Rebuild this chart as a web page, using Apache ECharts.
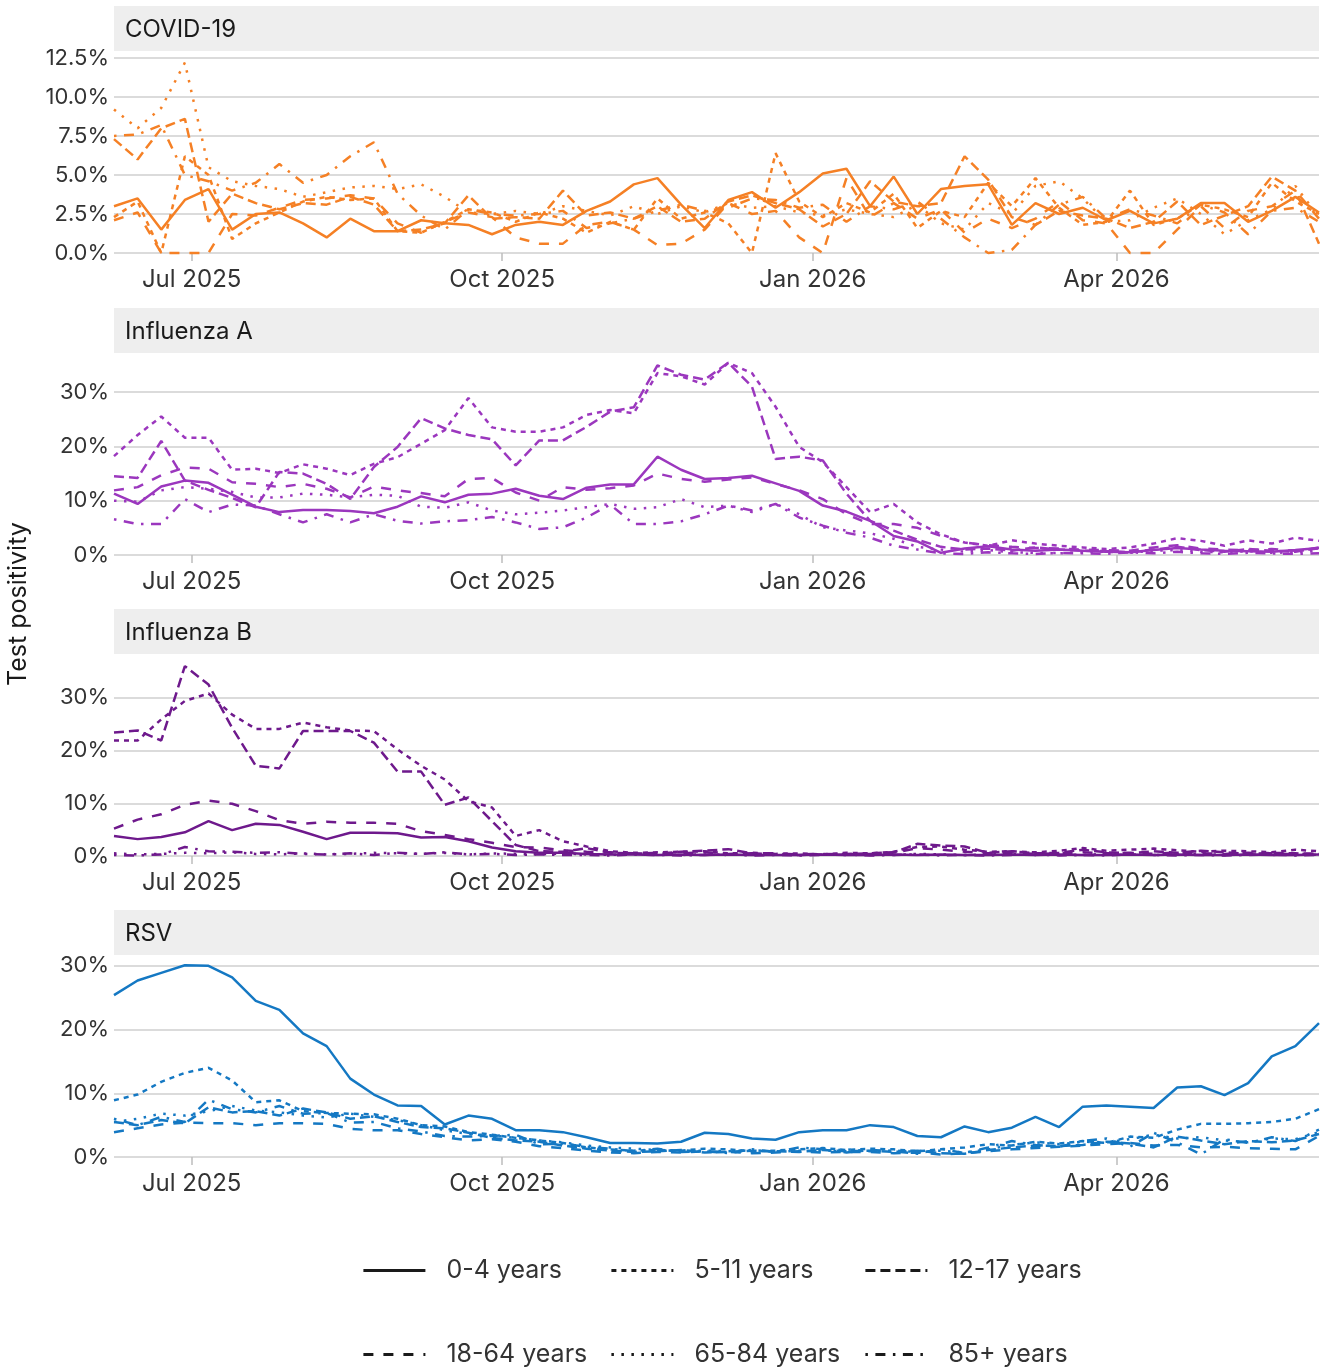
<!DOCTYPE html>
<html>
<head>
<meta charset="utf-8">
<script src="https://cdn.jsdelivr.net/npm/echarts@6/dist/echarts.min.js"></script>
<style>
  html, body { margin: 0; padding: 0; background: #fff; }
  #chart { width: 1325px; height: 1369px; }
</style>
</head>
<body>
<div id="chart"></div>
<script>
// weekly reporting dates
const weeks = [
  '2025-06-08','2025-06-15','2025-06-22','2025-06-29','2025-07-06','2025-07-13','2025-07-20','2025-07-27',
  '2025-08-03','2025-08-10','2025-08-17','2025-08-24','2025-08-31','2025-09-07','2025-09-14','2025-09-21',
  '2025-09-28','2025-10-05','2025-10-12','2025-10-19','2025-10-26','2025-11-02','2025-11-09','2025-11-16',
  '2025-11-23','2025-11-30','2025-12-07','2025-12-14','2025-12-21','2025-12-28','2026-01-04','2026-01-11',
  '2026-01-18','2026-01-25','2026-02-01','2026-02-08','2026-02-15','2026-02-22','2026-03-01','2026-03-08',
  '2026-03-15','2026-03-22','2026-03-29','2026-04-05','2026-04-12','2026-04-19','2026-04-26','2026-05-03',
  '2026-05-10','2026-05-17','2026-05-24','2026-05-31'
];
const tickDates = ['2025-07-01', '2025-10-01', '2026-01-01', '2026-04-01'];
const tickLabels = ['Jul 2025', 'Oct 2025', 'Jan 2026', 'Apr 2026'];
const ageGroups = ['0-4 years', '5-11 years', '12-17 years', '18-64 years', '65-84 years', '85+ years'];
const panelTitles = ['COVID-19', 'Influenza A', 'Influenza B', 'RSV'];

// COVID-19 (%)
const covid_0_4 = [3.0,3.5,1.5,3.4,4.1,1.5,2.5,2.6,1.9,1.0,2.2,1.4,1.4,2.1,1.9,1.8,1.2,1.8,2.0,1.8,2.7,3.3,4.4,4.8,3.1,1.6,3.4,3.9,2.9,3.9,5.1,5.4,3.0,4.9,2.5,4.1,4.3,4.4,1.8,3.2,2.5,2.9,2.1,2.7,1.9,2.2,3.2,3.2,2.0,2.7,3.6,2.6];
const covid_5_11 = [2.3,3.3,0.0,6.2,5.0,0.9,1.9,2.6,3.3,3.6,3.4,3.5,1.4,1.3,2.0,2.8,2.6,2.0,2.6,2.2,1.3,2.0,1.5,3.5,2.2,2.6,1.9,0.0,6.4,3.3,2.3,3.2,2.6,3.8,1.6,2.7,2.3,4.5,3.0,4.8,2.9,1.8,2.0,4.0,1.8,2.2,3.1,2.8,2.3,4.5,3.3,2.5];
const covid_12_17 = [7.3,6.0,8.0,8.6,2.0,3.8,3.2,2.8,3.2,3.1,3.6,3.1,1.4,1.5,1.9,3.7,2.2,2.3,2.2,4.0,2.4,2.6,2.2,3.0,2.0,2.2,3.3,3.7,3.2,2.8,1.7,2.5,4.6,3.3,3.0,3.2,6.2,4.7,2.3,1.8,2.7,2.4,2.2,1.6,2.0,3.3,1.8,2.4,3.0,4.9,4.0,0.6];
const covid_18_64 = [2.1,2.6,0.0,0.0,0.0,2.5,2.4,2.9,3.4,3.5,3.7,3.5,1.9,1.3,2.0,2.6,2.3,1.0,0.6,0.6,1.8,2.0,1.5,0.5,0.6,1.5,3.2,2.5,2.7,1.0,0.0,4.8,2.3,3.2,2.2,2.8,1.3,2.2,1.6,2.2,3.3,2.1,1.9,0.0,0.0,1.5,3.0,1.6,2.7,3.0,4.0,2.2];
const covid_65_84 = [9.2,8.0,9.3,12.2,5.5,4.6,4.3,4.1,3.6,3.9,4.2,4.3,4.1,4.4,3.6,2.6,2.5,2.7,2.5,3.0,2.7,2.4,3.0,2.5,3.0,2.6,3.2,2.9,3.0,2.6,2.4,2.8,2.5,2.3,3.1,1.9,1.5,3.2,2.5,4.3,4.6,3.5,2.0,2.1,2.9,3.5,2.5,1.2,2.1,2.8,4.3,2.3];
const covid_85 = [7.5,7.6,8.2,5.0,4.6,4.0,4.5,5.7,4.5,5.0,6.2,7.1,3.8,2.4,1.5,2.8,2.5,2.4,2.5,2.7,1.6,1.9,2.2,2.7,3.1,2.7,2.9,3.5,3.4,2.9,3.1,2.0,3.0,2.8,3.3,2.2,1.0,0.0,0.2,1.8,3.1,3.6,2.2,2.8,2.4,1.9,3.1,2.6,1.2,2.7,2.9,2.0];

// Influenza A (%)
const fluA_0_4 = [11.3,9.4,12.6,13.7,13.3,11.1,8.9,7.9,8.3,8.3,8.1,7.7,8.9,10.8,9.7,11.1,11.3,12.2,10.9,10.3,12.4,13.0,13.0,18.1,15.7,14.0,14.2,14.6,13.2,11.8,9.1,8.0,6.3,3.5,2.5,0.4,1.2,1.6,1.0,0.8,1.0,0.8,0.6,0.5,0.9,1.3,1.0,0.8,0.7,0.6,0.9,1.3];
const fluA_5_11 = [18.2,22.1,25.5,21.6,21.6,15.7,15.9,15.1,16.7,15.9,14.7,16.8,18.0,20.5,23.0,28.9,23.5,22.7,22.7,23.5,25.8,26.7,26.1,33.5,32.9,31.4,35.4,33.5,27.3,19.9,17.1,12.5,7.9,9.4,6.0,3.8,2.3,1.7,2.7,2.1,1.7,1.4,1.1,1.4,2.1,3.1,2.6,1.7,2.7,2.1,3.2,2.6];
const fluA_12_17 = [14.5,14.2,21.0,13.7,12.0,10.5,8.8,15.3,15.0,13.1,10.3,16.2,19.9,25.2,23.3,22.1,21.3,16.5,21.1,21.1,23.6,26.4,27.2,34.9,33.2,32.3,35.4,31.0,17.7,18.1,17.4,11.3,6.3,4.5,2.8,1.5,1.0,1.2,0.8,1.4,1.0,0.8,0.7,0.5,1.0,1.5,0.9,0.6,1.1,0.8,0.6,1.4];
const fluA_18_64 = [11.9,12.5,14.7,16.1,15.9,13.4,13.1,12.5,13.1,12.2,10.6,12.6,11.9,11.4,10.8,14.0,14.2,11.5,10.0,12.5,12.0,12.3,12.8,15.0,14.0,13.5,13.9,14.3,13.1,11.9,10.3,7.5,5.7,5.7,5.0,3.5,2.3,1.8,1.5,1.3,1.2,1.0,0.9,0.8,1.4,1.8,1.2,1.0,0.9,1.1,0.8,1.2];
const fluA_65_84 = [10.0,9.8,11.9,12.5,12.2,11.6,10.6,10.6,11.3,11.1,10.6,11.1,10.9,8.9,8.7,9.7,8.2,7.5,7.8,8.2,8.8,9.4,8.5,8.8,10.3,8.8,9.1,7.9,9.4,7.5,5.1,4.5,4.0,3.0,1.5,1.0,0.6,0.9,0.5,0.4,0.3,0.5,0.6,0.4,0.8,0.9,0.6,0.5,0.7,0.4,0.5,0.8];
const fluA_85 = [6.6,5.7,5.7,10.3,7.9,9.3,9.1,7.5,6.0,7.5,6.0,7.5,6.3,5.8,6.2,6.4,7.0,6.0,4.8,5.1,6.9,9.3,5.7,5.7,6.2,7.5,9.1,8.2,9.4,6.9,5.4,4.1,3.2,1.7,1.0,0.3,0.2,0.5,0.3,0.2,0.4,0.3,0.2,0.5,0.3,0.6,0.3,0.2,0.4,0.3,0.2,0.3];

// Influenza B (%)
const fluB_0_4 = [3.8,3.2,3.6,4.5,6.6,4.9,6.1,5.9,4.6,3.2,4.4,4.4,4.3,3.5,3.6,2.8,1.6,0.9,0.6,0.6,0.4,0.3,0.3,0.2,0.3,0.2,0.3,0.2,0.2,0.2,0.3,0.2,0.2,0.3,0.2,0.3,0.2,0.2,0.3,0.2,0.3,0.2,0.2,0.3,0.2,0.3,0.2,0.2,0.3,0.2,0.2,0.3];
const fluB_5_11 = [21.9,21.9,25.9,29.4,30.8,26.8,24.1,24.1,25.3,24.4,23.8,23.7,20.2,17.1,14.5,10.4,9.2,3.8,4.9,2.8,1.8,0.9,0.6,0.7,0.8,0.9,0.5,0.6,0.4,0.5,0.3,0.6,0.5,0.8,1.7,1.8,1.2,0.8,0.9,0.7,1.0,1.5,1.0,1.2,1.4,1.1,0.8,1.0,0.9,0.7,1.2,0.9];
const fluB_12_17 = [23.4,23.8,21.9,36.0,32.5,24.3,17.1,16.6,23.7,23.7,23.7,21.5,16.0,16.0,9.7,11.1,6.6,2.1,0.9,0.8,1.5,0.6,0.5,0.4,0.8,1.0,1.3,0.5,0.3,0.2,0.3,0.4,0.5,0.7,2.3,2.0,1.8,0.6,0.9,0.5,0.6,1.2,0.7,0.5,0.9,0.6,1.0,0.7,0.4,0.6,0.5,0.4];
const fluB_18_64 = [5.2,6.9,7.9,9.7,10.5,9.9,8.5,6.8,6.1,6.5,6.3,6.3,6.1,4.7,4.0,3.2,2.5,1.7,1.6,1.1,0.8,0.7,0.5,0.6,0.5,0.7,0.4,0.5,0.5,0.3,0.4,0.3,0.4,0.6,1.5,1.2,0.8,0.5,0.6,0.4,0.5,0.7,0.5,0.6,0.4,0.7,0.5,0.4,0.6,0.5,0.3,0.5];
const fluB_65_84 = [0.5,0.3,0.4,0.6,0.5,0.7,0.4,0.3,0.5,0.3,0.4,0.6,0.5,0.4,0.6,0.3,0.5,0.4,0.3,0.5,0.3,0.2,0.4,0.3,0.2,0.3,0.2,0.4,0.3,0.2,0.3,0.2,0.3,0.2,0.4,0.3,0.2,0.3,0.4,0.2,0.3,0.2,0.4,0.3,0.2,0.3,0.4,0.2,0.3,0.2,0.3,0.2];
const fluB_85 = [0.2,0.1,0.3,1.7,0.9,0.8,0.6,0.7,0.4,0.3,0.5,0.2,0.6,0.4,0.7,0.3,0.4,0.2,0.3,0.2,0.2,0.1,0.3,0.2,0.1,0.2,0.3,0.1,0.2,0.1,0.2,0.3,0.1,0.2,0.3,0.1,0.2,0.1,0.2,0.3,0.1,0.2,0.1,0.3,0.2,0.1,0.2,0.1,0.2,0.3,0.1,0.2];

// RSV (%)
const rsv_0_4 = [25.4,27.7,28.9,30.1,30.0,28.2,24.5,23.1,19.4,17.4,12.3,9.8,8.1,8.0,5.1,6.5,6.0,4.2,4.2,3.9,3.1,2.2,2.2,2.1,2.4,3.8,3.6,2.9,2.7,3.9,4.2,4.2,5.0,4.7,3.3,3.1,4.8,3.9,4.6,6.3,4.7,7.9,8.1,7.9,7.7,10.9,11.1,9.7,11.6,15.8,17.4,21.0];
const rsv_5_11 = [8.9,9.8,11.8,13.2,14.0,12.0,8.6,8.9,7.2,6.9,6.8,6.7,6.0,5.0,4.8,3.9,3.5,3.0,2.6,2.2,1.5,1.2,1.0,1.1,1.0,1.3,1.2,0.9,1.0,1.2,1.4,1.1,1.3,1.2,0.9,1.2,1.5,2.0,1.8,2.4,2.1,2.5,2.2,3.2,3.0,4.3,5.2,5.2,5.3,5.5,6.0,7.5];
const rsv_12_17 = [5.5,5.0,5.8,5.3,7.8,7.0,7.2,6.5,7.6,7.0,6.0,6.4,5.5,4.7,4.5,3.8,3.0,2.6,2.4,1.8,1.3,1.0,0.8,0.9,1.1,0.7,0.8,1.0,0.9,0.8,1.1,0.9,1.0,0.8,1.0,0.6,0.5,1.1,1.5,1.8,1.7,1.9,2.4,2.1,1.5,3.2,2.6,2.0,2.5,2.3,2.6,3.6];
const rsv_18_64 = [3.9,4.5,5.1,5.4,5.3,5.3,5.0,5.3,5.3,5.2,4.4,4.2,4.2,3.6,3.1,2.6,2.8,2.4,1.7,1.4,1.0,0.7,0.6,0.8,0.7,0.9,0.8,0.6,0.7,0.9,0.7,0.8,0.8,0.6,0.7,0.4,0.6,0.9,1.2,1.4,1.6,1.8,2.0,2.2,1.8,1.9,1.5,1.6,1.4,1.3,1.2,3.3];
const rsv_65_84 = [5.5,6.0,6.8,6.5,7.2,8.0,7.3,7.0,6.5,6.2,6.8,6.3,5.8,5.0,4.2,3.6,3.4,3.0,2.6,2.3,1.8,1.5,1.3,1.1,0.9,1.0,0.9,1.1,0.8,1.0,0.9,1.2,0.9,1.0,0.8,1.0,0.7,1.2,1.9,2.3,2.0,2.4,2.3,2.8,3.5,2.9,3.1,2.6,2.3,2.9,2.8,3.9];
const rsv_85 = [6.0,5.0,6.3,5.5,9.0,7.5,7.0,8.0,6.8,6.9,5.4,5.5,4.5,4.0,3.3,3.2,3.3,3.5,2.0,2.1,1.6,1.3,0.9,1.3,0.8,0.9,0.6,1.2,0.8,1.5,1.2,0.7,1.1,0.9,0.5,1.3,0.6,1.5,2.5,1.9,1.6,2.5,2.9,1.6,3.8,2.3,0.4,2.8,2.2,3.1,2.5,4.3];

const panelData = [
  [covid_0_4, covid_5_11, covid_12_17, covid_18_64, covid_65_84, covid_85],
  [fluA_0_4, fluA_5_11, fluA_12_17, fluA_18_64, fluA_65_84, fluA_85],
  [fluB_0_4, fluB_5_11, fluB_12_17, fluB_18_64, fluB_65_84, fluB_85],
  [rsv_0_4, rsv_5_11, rsv_12_17, rsv_18_64, rsv_65_84, rsv_85]
];

// layout / style
const FONT = 'Inter';
const colors = ['#F58025', '#9B37BE', '#6E198C', '#1478C3'];
const dashes = ['solid', [5, 5], [10, 5], [10, 10], [2.5, 7.5], [2.5, 7.5, 10, 7.5]];
const stripTops = [6, 308, 609, 910];
const stripH = 45;
const plotH = 202;
const plotLeft = 114;
const plotW = 1205;
const yMax = [12.95, 37.2, 38.3, 31.7];
const yStep = [2.5, 10, 10, 10];

const ts = s => new Date(s + 'T00:00:00').getTime();
const tickTs = tickDates.map(ts);

const grids = [], xAxes = [], yAxes = [], series = [], graphics = [];

stripTops.forEach((top, p) => {
  grids.push({ left: plotLeft, width: plotW, top: top + stripH, height: plotH });

  // dates are plotted as timestamps on a value axis so the ticks can sit on the 1st of the month
  xAxes.push({
    type: 'value', gridIndex: p,
    min: ts(weeks[0]), max: ts(weeks[weeks.length - 1]),
    axisLine: { show: false },
    axisTick: { show: true, customValues: tickTs, length: 8, lineStyle: { color: '#bdbdbd', width: 1.5 } },
    axisLabel: {
      customValues: tickTs, margin: 15, fontFamily: FONT, fontSize: 24, color: '#333',
      formatter: v => {
        const k = tickTs.findIndex(t => Math.abs(t - v) < 86400000);
        return k >= 0 ? tickLabels[k] : '';
      }
    },
    splitLine: { show: false }
  });

  yAxes.push({
    type: 'value', gridIndex: p, min: 0, max: yMax[p], interval: yStep[p],
    axisLine: { show: false }, axisTick: { show: false },
    axisLabel: {
      showMaxLabel: false, margin: 5, fontFamily: FONT, fontSize: 22, color: '#333',
      formatter: v => p === 0 ? v.toFixed(1) + '%' : v + '%'
    },
    splitLine: { show: true, showMaxLine: false, lineStyle: { color: '#cfcfcf', width: 1.5 } }
  });

  panelData[p].forEach((vals, k) => {
    series.push({
      type: 'line', name: ageGroups[k], xAxisIndex: p, yAxisIndex: p,
      data: weeks.map((d, i) => [ts(d), vals[i]]),
      symbol: 'none', clip: false, silent: true,
      itemStyle: { color: colors[p] },
      lineStyle: { color: colors[p], width: 2.5, type: dashes[k] }
    });
  });

  graphics.push({
    type: 'rect', shape: { x: plotLeft, y: top, width: plotW, height: stripH },
    style: { fill: '#eeeeee' }, silent: true
  });
  graphics.push({
    type: 'text', x: plotLeft + 11, y: top + stripH / 2 + 1,
    style: { text: panelTitles[p], fontFamily: FONT, fontSize: 24, fill: '#1a1a1a', verticalAlign: 'middle' }
  });
});

graphics.push({
  type: 'text', x: 18, y: 604, rotation: Math.PI / 2,
  style: { text: 'Test positivity', fontFamily: FONT, fontSize: 25, fill: '#1a1a1a', align: 'center', verticalAlign: 'middle' }
});

const legendLeft = [362, 610, 864];
const legendRowY = [1269, 1353];
const legends = ageGroups.map((name, k) => ({
  data: [name],
  left: legendLeft[k % 3],
  top: legendRowY[Math.floor(k / 3)] - 11,
  padding: 0,
  itemWidth: 62, itemHeight: 16,
  selectedMode: false,
  lineStyle: { color: '#1a1a1a', width: 2.8 },
  itemStyle: { opacity: 0 },
  textStyle: { fontFamily: FONT, fontSize: 25, color: '#333', padding: [0, 0, 0, 16] }
}));

const chart = echarts.init(document.getElementById('chart'));
chart.setOption({
  backgroundColor: '#fff',
  animation: false,
  grid: grids,
  xAxis: xAxes,
  yAxis: yAxes,
  legend: legends,
  graphic: graphics,
  series: series
});
</script>
</body>
</html>
